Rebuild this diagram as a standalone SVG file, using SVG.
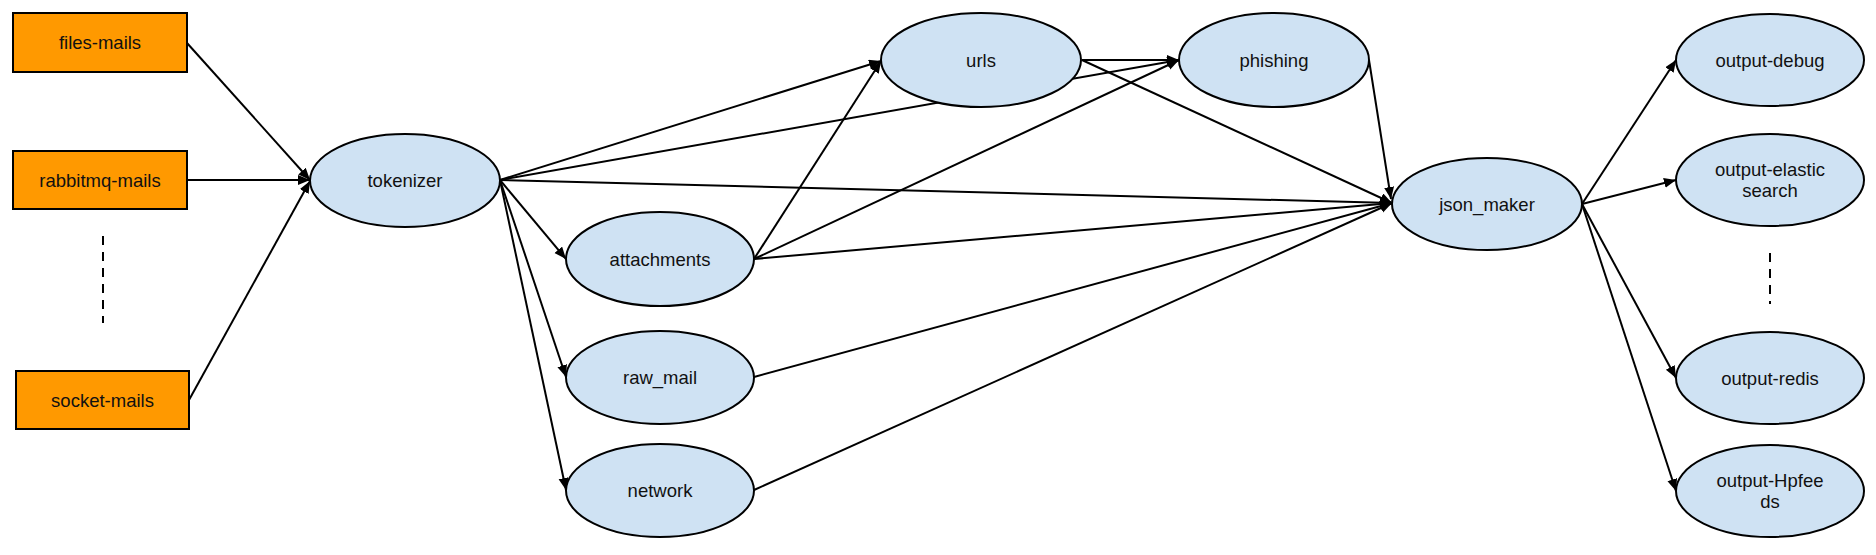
<svg xmlns="http://www.w3.org/2000/svg" width="1876" height="555" viewBox="0 0 1876 555">
<style>
.box{fill:#ff9900;stroke:#000;stroke-width:2}
.ell{fill:#cfe2f3;stroke:#000;stroke-width:2}
.lbl{font-family:"Liberation Sans",Arial,sans-serif;font-size:18.5px;fill:#111;text-anchor:middle}
.e{stroke:#000;stroke-width:2;fill:none;marker-end:url(#ah)}
.n{stroke:#000;stroke-width:2;fill:none}
.d{stroke:#000;stroke-width:2;fill:none;stroke-dasharray:9,7}
</style>
<defs>
<marker id="ah" markerUnits="userSpaceOnUse" markerWidth="14" markerHeight="12" refX="12" refY="5" orient="auto">
<path d="M0,0 L12,5 L0,10 z" fill="#000"/>
</marker>
</defs>
<g id="connectors">
<line class="e" x1="187" y1="43" x2="310" y2="180"/>
<line class="e" x1="187" y1="180" x2="310" y2="180"/>
<line class="e" x1="189" y1="400" x2="310" y2="181"/>
<line class="e" x1="500" y1="180" x2="881" y2="61"/>
<line class="e" x1="500" y1="180" x2="1179" y2="60"/>
<line class="e" x1="500" y1="180" x2="566" y2="259"/>
<line class="e" x1="500" y1="180" x2="566" y2="377"/>
<line class="e" x1="500" y1="180" x2="566" y2="490"/>
<line class="e" x1="500" y1="180" x2="1392" y2="203"/>
<line class="e" x1="754" y1="259" x2="881" y2="61"/>
<line class="e" x1="754" y1="259" x2="1179" y2="60"/>
<line class="e" x1="754" y1="259" x2="1392" y2="203"/>
<line class="e" x1="1082" y1="60" x2="1179" y2="60"/>
<line class="e" x1="1082" y1="60" x2="1392" y2="203"/>
<line class="e" x1="1369" y1="60" x2="1391" y2="199"/>
<line class="e" x1="754" y1="377" x2="1392" y2="203"/>
<line class="e" x1="754" y1="490" x2="1392" y2="203"/>
<line class="e" x1="1582" y1="204" x2="1676" y2="60"/>
<line class="e" x1="1582" y1="204" x2="1676" y2="180"/>
<line class="e" x1="1582" y1="204" x2="1676" y2="378"/>
<line class="e" x1="1582" y1="204" x2="1676" y2="491"/>
<line class="d" x1="103" y1="236" x2="103" y2="323"/>
<line class="d" x1="1770" y1="253" x2="1770" y2="304"/>
</g>
<g id="files-mails"><rect class="box" x="13" y="13" width="174" height="59"/><text class="lbl" x="100" y="49">files-mails</text></g>
<g id="rabbitmq-mails"><rect class="box" x="13" y="151" width="174" height="58"/><text class="lbl" x="100" y="186.5">rabbitmq-mails</text></g>
<g id="socket-mails"><rect class="box" x="16" y="371" width="173" height="58"/><text class="lbl" x="102.5" y="406.5">socket-mails</text></g>
<g id="tokenizer"><ellipse class="ell" cx="405" cy="180.5" rx="95" ry="46.5"/><text class="lbl" x="405" y="187">tokenizer</text></g>
<g id="urls"><ellipse class="ell" cx="981" cy="60" rx="100" ry="47"/><text class="lbl" x="981" y="66.5">urls</text></g>
<g id="phishing"><ellipse class="ell" cx="1274" cy="60" rx="95" ry="47"/><text class="lbl" x="1274" y="66.5">phishing</text></g>
<g id="attachments"><ellipse class="ell" cx="660" cy="259" rx="94" ry="47"/><text class="lbl" x="660" y="265.5">attachments</text></g>
<g id="raw_mail"><ellipse class="ell" cx="660" cy="377.5" rx="94" ry="46.5"/><text class="lbl" x="660" y="384">raw_mail</text></g>
<g id="network"><ellipse class="ell" cx="660" cy="490.5" rx="94" ry="46.5"/><text class="lbl" x="660" y="497">network</text></g>
<g id="json_maker"><ellipse class="ell" cx="1487" cy="204" rx="95" ry="46"/><text class="lbl" x="1487" y="210.5">json_maker</text></g>
<g id="output-debug"><ellipse class="ell" cx="1770" cy="60" rx="94" ry="46"/><text class="lbl" x="1770" y="66.5">output-debug</text></g>
<g id="output-elasticsearch"><ellipse class="ell" cx="1770" cy="180" rx="94" ry="46"/><text class="lbl" x="1770" y="176">output-elastic</text><text class="lbl" x="1770" y="197">search</text></g>
<g id="output-redis"><ellipse class="ell" cx="1770" cy="378" rx="94" ry="46"/><text class="lbl" x="1770" y="384.5">output-redis</text></g>
<g id="output-Hpfeeds"><ellipse class="ell" cx="1770" cy="491" rx="94" ry="46"/><text class="lbl" x="1770" y="487">output-Hpfee</text><text class="lbl" x="1770" y="508">ds</text></g>
</svg>
